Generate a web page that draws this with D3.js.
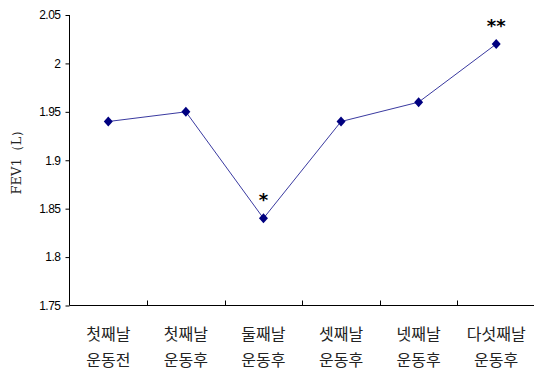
<!DOCTYPE html>
<html>
<head>
<meta charset="utf-8">
<script src="https://cdn.jsdelivr.net/npm/d3@7"></script>
<style>
  body { margin: 0; background: #fff; }
</style>
</head>
<body>
<div id="chart"></div>
<script>
const days = ["첫째날", "첫째날", "둘째날", "셋째날", "넷째날", "다섯째날"];
const phases = ["운동전", "운동후", "운동후", "운동후", "운동후", "운동후"];
const fev1 = [1.94, 1.95, 1.84, 1.94, 1.96, 2.02];
const marks = ["", "", "*", "", "", "**"];
const yTicks = [1.75, 1.8, 1.85, 1.9, 1.95, 2, 2.05];

const width = 534;
const height = 376;
const plotLeft = 69.5, plotRight = 535, plotTop = 15, plotBottom = 305.5;

const svg = d3.select("#chart")
  .append("svg")
  .attr("width", width)
  .attr("height", height);

const x = d3.scaleBand()
  .domain(d3.range(fev1.length))
  .range([plotLeft, plotRight]);

const y = d3.scaleLinear()
  .domain([1.75, 2.05])
  .range([plotBottom, plotTop]);

// y axis
const yAxis = svg.append("g")
  .attr("transform", `translate(${plotLeft},0)`)
  .call(d3.axisLeft(y).tickValues(yTicks).tickSize(4).tickPadding(5)
    .tickFormat(d => d3.format("~g")(d)));
yAxis.selectAll("text")
  .style("font-family", "'Liberation Sans', Arial, sans-serif")
  .style("font-size", "12px")
  .style("letter-spacing", "-0.5px")
  .attr("fill", "#000");
yAxis.selectAll("line, path").attr("stroke", "#000");
yAxis.select(".domain").attr("d", `M0,${plotTop}V${plotBottom}`);

// x axis, ticks on the band edges pointing inward
const xAxis = svg.append("g")
  .attr("transform", `translate(0,${plotBottom})`);
xAxis.append("line")
  .attr("x1", plotLeft).attr("x2", plotRight)
  .attr("stroke", "#000");
xAxis.selectAll(".tk")
  .data(d3.range(1, fev1.length))
  .enter()
  .append("line")
  .attr("x1", d => Math.round(x(d)) + 0.5)
  .attr("x2", d => Math.round(x(d)) + 0.5)
  .attr("y1", 0).attr("y2", -5)
  .attr("stroke", "#000");

const labels = svg.append("g")
  .style("font-family", "'Noto Sans CJK KR', sans-serif")
  .style("font-size", "16px")
  .attr("fill", "#222")
  .attr("text-anchor", "middle");
labels.selectAll(".d1")
  .data(days)
  .enter()
  .append("text")
  .attr("x", (d, i) => x(i) + x.bandwidth() / 2)
  .attr("y", 340)
  .text(d => d);
labels.selectAll(".d2")
  .data(phases)
  .enter()
  .append("text")
  .attr("x", (d, i) => x(i) + x.bandwidth() / 2)
  .attr("y", 366)
  .text(d => d);

// y title
svg.append("text")
  .attr("transform", `translate(21,159) rotate(-90)`)
  .attr("text-anchor", "middle")
  .style("font-family", "'DejaVu Serif', 'Liberation Serif', serif")
  .style("font-size", "13px")
  .attr("fill", "#222")
  .text("FEV1（L）");

// line
const line = d3.line()
  .x((d, i) => x(i) + x.bandwidth() / 2)
  .y(d => y(d));
svg.append("path")
  .datum(fev1)
  .attr("d", line)
  .attr("fill", "none")
  .attr("stroke", "#3a3aa0")
  .attr("stroke-width", 1);

// diamond markers
svg.selectAll(".pt")
  .data(fev1)
  .enter()
  .append("path")
  .attr("d", "M0,-5L4.5,0L0,5L-4.5,0Z")
  .attr("transform", (d, i) => `translate(${x(i) + x.bandwidth() / 2},${y(d)})`)
  .attr("fill", "#000080");

// significance marks
svg.selectAll(".sig")
  .data(fev1)
  .enter()
  .append("text")
  .attr("x", (d, i) => x(i) + x.bandwidth() / 2)
  .attr("y", d => y(d) - 12)
  .attr("text-anchor", "middle")
  .style("font-family", "'DejaVu Sans', sans-serif")
  .style("font-size", "18px")
  .style("font-weight", "bold")
  .attr("fill", "#000")
  .text((d, i) => marks[i]);
</script>
</body>
</html>
